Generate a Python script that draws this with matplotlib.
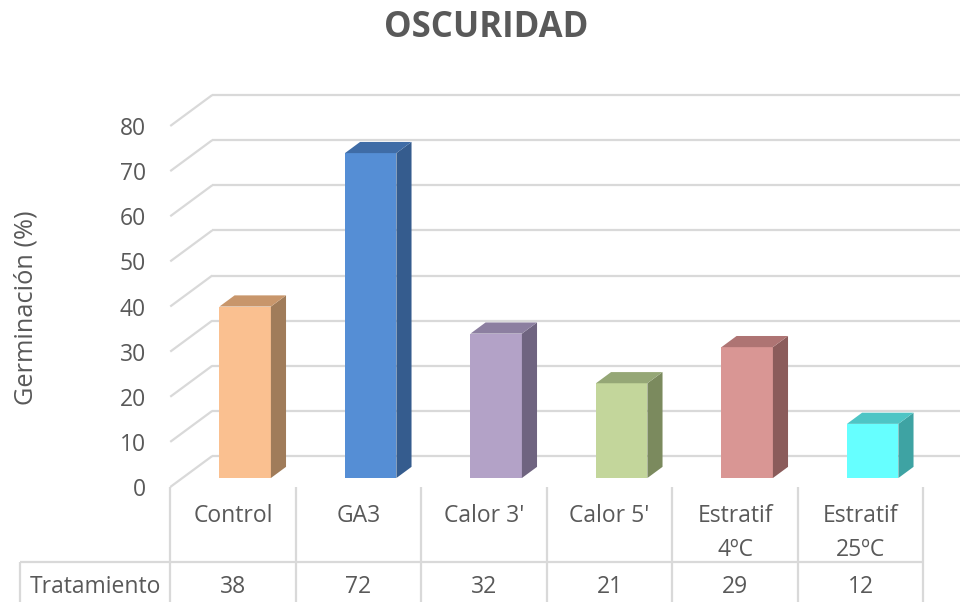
import matplotlib
matplotlib.use("Agg")
import matplotlib.pyplot as plt
from matplotlib.patches import Polygon

plt.rcParams['font.family'] = ['Open Sans', 'DejaVu Sans']

categories = ["Control", "GA3", "Calor 3'", "Calor 5'", "Estratif\n4ºC", "Estratif\n25ºC"]
values = [38, 72, 32, 21, 29, 12]
yticks = [0, 10, 20, 30, 40, 50, 60, 70, 80]
title = "OSCURIDAD"
ylabel = "Germinación (%)"
row_label = "Tratamiento"

front_cols = ["#FAC090", "#558ED5", "#B3A2C7", "#C3D69B", "#D99694", "#66FFFF"]
top_cols = ["#C8966B", "#3F6CA6", "#8C7FA0", "#95A776", "#AE7473", "#4EC5C5"]
side_cols = ["#A07C5A", "#355C8E", "#6F6480", "#7B8A5E", "#8B5C5B", "#3EA3A3"]

text_col = "#595959"
grid_col = "#D9D9D9"

fig = plt.figure(figsize=(9.6, 6.02), dpi=100)
ax = fig.add_axes([0, 0, 1, 1])
# front-plane mapping: category i -> px 233+125.5*i ; value v -> py 487-4.5125*v
sx = 125.5
sy = 4.5125
ax.set_xlim(-233 / sx, (960 - 233) / sx)
ax.set_ylim((487 - 602) / sy, 487 / sy)
ax.axis("off")

DX = 42 / sx   # depth offset in category units
DY = 31 / sy   # depth offset in value units
n = len(categories)
left = -0.5
right = n - 0.5
xmax = ax.get_xlim()[1]
toff = 3 / sy  # visual text offset

# gridlines: side wall diagonals and back wall
for v in yticks:
    ax.plot([left, left + DX], [v, v + DY], color=grid_col, lw=1.6, solid_capstyle="butt", zorder=1)
    ax.plot([left + DX, xmax], [v + DY, v + DY], color=grid_col, lw=1.6, solid_capstyle="butt", zorder=1)

# bars
bw = 0.41
z0, z1 = 0.29, 0.65
for i, (v, fc, tc, sc) in enumerate(zip(values, front_cols, top_cols, side_cols)):
    x0 = i - bw / 2 + z0 * DX
    x1 = i + bw / 2 + z0 * DX
    y0 = z0 * DY
    ddx = (z1 - z0) * DX
    ddy = (z1 - z0) * DY
    front = Polygon([(x0, y0), (x1, y0), (x1, y0 + v), (x0, y0 + v)], closed=True,
                    facecolor=fc, edgecolor="none", zorder=3)
    side = Polygon([(x1, y0), (x1 + ddx, y0 + ddy), (x1 + ddx, y0 + ddy + v), (x1, y0 + v)],
                   closed=True, facecolor=sc, edgecolor="none", zorder=3)
    top = Polygon([(x0, y0 + v), (x1, y0 + v), (x1 + ddx, y0 + ddy + v), (x0 + ddx, y0 + ddy + v)],
                  closed=True, facecolor=tc, edgecolor="none", zorder=3)
    for p in (front, side, top):
        ax.add_patch(p)

# y tick labels
xt = -233 / sx + 146 / sx
for v in yticks:
    ax.text(xt, v - toff, str(v), ha="right", va="center", fontsize=16.5, color=text_col)

# axis title
ax.text(-233 / sx + 26 / sx, (487 - 308) / sy, ylabel, rotation=90, ha="center", va="center",
        fontsize=18.3, color=text_col)

# title
fig.text(486 / 960, 1 - 28 / 602, title, ha="center", va="center", fontsize=25,
         fontweight="bold", color=text_col)

# data table
y_row = (487 - 562) / sy
y_bot = (487 - 602) / sy
xl = -233 / sx + 20 / sx
for k in range(n + 1):
    xb = left + k
    ax.plot([xb, xb], [0, y_bot], color=grid_col, lw=1.6, solid_capstyle="butt", zorder=1)
ax.plot([xl, right], [y_row, y_row], color=grid_col, lw=1.6, solid_capstyle="butt", zorder=1)
ax.plot([xl, xl], [y_row, y_bot], color=grid_col, lw=1.6, solid_capstyle="butt", zorder=1)

y_val = (487 - 584) / sy - toff
for i, (c, v) in enumerate(zip(categories, values)):
    for j, ln in enumerate(c.split("\n")):
        ax.text(i, (487 - (513 + 34 * j)) / sy - toff, ln, ha="center", va="center",
                fontsize=16.5, color=text_col)
    ax.text(i, y_val, str(v), ha="center", va="center", fontsize=16.5, color=text_col)

ax.text((xl + left) / 2, y_val, row_label, ha="center", va="center", fontsize=16.5, color=text_col)

fig.savefig("out.png", dpi=100, facecolor="white")
